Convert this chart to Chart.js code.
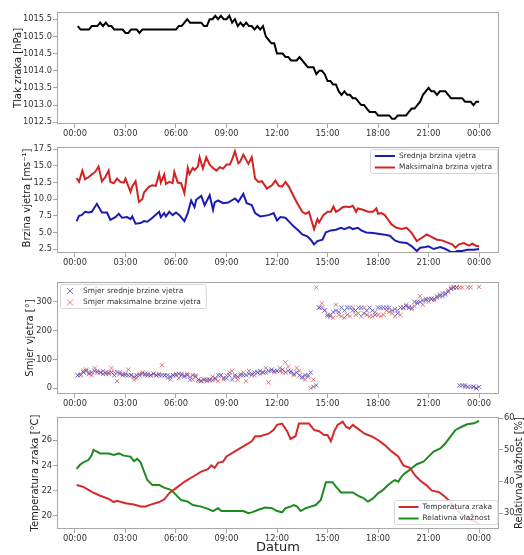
<!DOCTYPE html>
<html>
<head>
<meta charset="utf-8">
<script src="https://cdn.jsdelivr.net/npm/chart.js@4.4.0/dist/chart.umd.min.js"></script>
<style>
  body { margin: 0; background: #fff; width: 524px; height: 555px; overflow: hidden; position: relative; }
  canvas { position: absolute; left: 0; }
</style>
</head>
<body>
<canvas id="tlak" width="524" height="138" style="top:0px"></canvas>
<canvas id="brzina" width="524" height="134" style="top:140px"></canvas>
<canvas id="smjer" width="524" height="136" style="top:274px"></canvas>
<canvas id="temp" width="524" height="145" style="top:410px"></canvas>
<script>
// Meteoroloski podaci kroz jedan dan (mjerenja svakih 10 min), 4 panela

// --- Os vremena (minute od ponoci) ---
const satiMinuta = Array.from({ length: 144 }, (_, i) => (i + 1) * 10); // 00:10 ... 24:00
const xTickMinute = [0, 180, 360, 540, 720, 900, 1080, 1260, 1440];
const xTickOznake = ['00:00', '03:00', '06:00', '09:00', '12:00', '15:00', '18:00', '21:00', '00:00'];

// --- Tlak zraka [hPa], svakih 10 min ---
const tlak = [
  1015.3, 1015.2, 1015.2, 1015.2, 1015.2, 1015.3,
  1015.3, 1015.3, 1015.4, 1015.3, 1015.4, 1015.3,
  1015.3, 1015.2, 1015.2, 1015.2, 1015.2, 1015.1,
  1015.1, 1015.2, 1015.2, 1015.2, 1015.1, 1015.2,
  1015.2, 1015.2, 1015.2, 1015.2, 1015.2, 1015.2,
  1015.2, 1015.2, 1015.2, 1015.2, 1015.2, 1015.2,
  1015.3, 1015.3, 1015.4, 1015.5, 1015.4, 1015.4,
  1015.4, 1015.4, 1015.4, 1015.3, 1015.3, 1015.5,
  1015.5, 1015.6, 1015.5, 1015.6, 1015.5, 1015.5,
  1015.6, 1015.4, 1015.5, 1015.3, 1015.4, 1015.3,
  1015.4, 1015.3, 1015.3, 1015.2, 1015.3, 1015.2,
  1015.3, 1015.0, 1014.9, 1014.8, 1014.8, 1014.5,
  1014.5, 1014.5, 1014.4, 1014.4, 1014.3, 1014.3,
  1014.3, 1014.4, 1014.3, 1014.2, 1014.1, 1014.1,
  1014.1, 1013.9, 1014.0, 1014.0, 1013.9, 1013.7,
  1013.7, 1013.6, 1013.6, 1013.4, 1013.3, 1013.4,
  1013.3, 1013.3, 1013.2, 1013.2, 1013.1, 1013.0,
  1013.0, 1012.9, 1012.8, 1012.8, 1012.8, 1012.7,
  1012.7, 1012.7, 1012.7, 1012.7, 1012.6, 1012.6,
  1012.7, 1012.7, 1012.7, 1012.7, 1012.8, 1012.9,
  1012.9, 1013.0, 1013.1, 1013.3, 1013.4, 1013.5,
  1013.4, 1013.4, 1013.3, 1013.4, 1013.4, 1013.4,
  1013.3, 1013.2, 1013.2, 1013.2, 1013.2, 1013.2,
  1013.1, 1013.1, 1013.1, 1013.0, 1013.1, 1013.1
];
const tlakTicks = [1012.5, 1013.0, 1013.5, 1014.0, 1014.5, 1015.0, 1015.5];

// --- Brzina vjetra [m/s] (ocitano po satima) ---
const srednjaSati = [0.1, 0.24, 0.4, 0.6, 0.8, 1.0, 1.3, 1.6, 1.9, 2.1, 2.4, 2.6, 2.8, 3.1, 3.3, 3.4, 3.6, 3.9, 4.1, 4.3,
  4.6, 5.0, 5.1, 5.3, 5.4, 5.6, 5.8, 6.0, 6.2, 6.5, 6.7, 6.9, 7.1, 7.2, 7.5, 7.7, 8.0, 8.2, 8.3, 8.5,
  8.8, 9.1, 9.3, 9.5, 9.7, 10.0, 10.2, 10.5, 10.7, 11.0, 11.5, 11.8, 12.0, 12.2, 12.5, 12.8, 13.0, 13.3, 13.5, 13.8,
  14.0, 14.2, 14.4, 14.7, 14.9, 15.2, 15.5, 15.8, 16.0, 16.3, 16.5, 16.8, 17.0, 17.3, 17.7, 18.0, 18.3, 18.7, 19.0, 19.3,
  19.7, 20.0, 20.3, 20.5, 20.8, 21.0, 21.3, 21.7, 22.0, 22.3, 22.5, 22.7, 23.0, 23.3, 23.7, 24.0];
const srednjaBrzina = [6.7, 7.5, 7.6, 8.1, 8.0, 8.1, 9.3, 8.0, 8.0, 6.9, 7.3, 7.8, 7.2, 7.3, 7.0, 7.4, 6.3, 6.4, 6.7, 6.6,
  7.2, 8.1, 7.3, 7.9, 7.4, 8.1, 7.6, 8.0, 7.6, 6.7, 7.9, 9.8, 8.8, 9.9, 10.5, 9.1, 10.6, 8.4, 9.5, 9.8,
  9.4, 9.5, 9.8, 10.1, 9.6, 10.8, 9.4, 9.1, 7.9, 7.4, 7.6, 7.9, 6.8, 7.3, 7.2, 6.4, 5.9, 5.2, 4.7, 4.4,
  3.9, 3.2, 3.7, 3.9, 5.0, 5.3, 5.4, 5.7, 5.5, 5.8, 5.5, 5.7, 5.3, 5.0, 4.9, 4.8, 4.7, 4.5, 3.8, 3.5,
  3.4, 2.9, 2.2, 2.7, 2.8, 2.9, 2.5, 2.8, 2.5, 2.1, 2.0, 2.2, 2.2, 2.4, 2.4, 2.5];

const maksSati = [0.1, 0.24, 0.44, 0.6, 0.8, 1.0, 1.2, 1.4, 1.6, 1.8, 2.0, 2.1, 2.3, 2.5, 2.7, 2.9, 3.0, 3.3, 3.4, 3.6,
  3.8, 4.0, 4.1, 4.4, 4.6, 4.8, 5.0, 5.1, 5.3, 5.4, 5.6, 5.8, 5.9, 6.1, 6.3, 6.5, 6.7, 6.8, 7.0, 7.1,
  7.3, 7.4, 7.6, 7.8, 8.0, 8.2, 8.4, 8.6, 8.8, 9.0, 9.2, 9.35, 9.5, 9.7, 9.8, 10.0, 10.3, 10.5, 10.7, 10.9,
  11.1, 11.4, 11.7, 11.9, 12.1, 12.3, 12.5, 12.7, 12.9, 13.2, 13.5, 13.7, 13.9, 14.0, 14.2, 14.4, 14.5, 14.75, 15.0, 15.2,
  15.35, 15.5, 15.7, 15.9, 16.1, 16.3, 16.5, 16.7, 16.8, 17.1, 17.4, 17.7, 17.9, 18.0, 18.2, 18.4, 18.6, 18.8, 19.1, 19.4,
  19.7, 20.0, 20.3, 20.6, 20.9, 21.2, 21.5, 21.8, 22.1, 22.4, 22.6, 22.8, 23.1, 23.4, 23.6, 23.8, 24.0];
const maksBrzina = [13.2, 12.6, 14.3, 13.0, 13.3, 13.7, 14.1, 14.9, 12.7, 13.3, 14.3, 12.6, 12.4, 13.1, 12.6, 12.5, 13.1, 11.1, 11.9, 12.7,
  9.6, 10.0, 11.0, 11.9, 12.1, 12.0, 13.8, 12.5, 13.7, 12.3, 12.6, 12.4, 14.1, 12.5, 12.4, 10.9, 14.7, 13.8, 14.7, 14.4,
  14.9, 16.3, 14.6, 16.3, 15.2, 14.7, 14.3, 14.8, 14.6, 15.2, 15.2, 16.1, 17.2, 15.4, 15.6, 16.7, 15.3, 16.3, 13.1, 12.6,
  12.7, 11.6, 12.1, 12.8, 12.0, 11.9, 12.6, 11.9, 10.9, 9.4, 8.1, 7.8, 8.1, 7.2, 5.5, 7.0, 6.5, 7.6, 8.1, 8.1,
  8.9, 8.1, 8.4, 8.8, 8.9, 8.8, 9.0, 8.1, 8.6, 8.4, 8.1, 8.1, 8.6, 7.8, 7.9, 7.6, 6.9, 6.2, 5.7, 5.5,
  5.7, 4.9, 3.7, 4.2, 4.7, 4.3, 3.9, 3.8, 3.5, 3.2, 2.7, 3.2, 3.4, 3.0, 3.3, 3.0, 2.9];
const brzinaTicks = [2.5, 5.0, 7.5, 10.0, 12.5, 15.0, 17.5];

// --- Smjer vjetra [°], svakih 10 min ---
const smjerSrednje = [
  45, 45, 55, 60, 50, 55,   60, 55, 55, 50, 55, 50,   55, 45, 55, 50, 45, 50,   45, 45, 40, 45, 45, 50,
  50, 45, 45, 50, 45, 45,   45, 45, 45, 40, 45, 45,   50, 45, 40, 45, 30, 45,   40, 30, 25, 30, 30, 28,
  28, 35, 45, 45, 35, 35,   45, 30, 45, 40, 45, 45,   45, 50, 50, 55, 55, 60,   55, 55, 60, 65, 60, 60,
  60, 65, 55, 60, 55, 50,   55, 45, 40, 45, 45, 55,   5, 10, 280, 280, 270, 255,   250, 265, 270, 265, 280, 270,
  280, 280, 270, 270, 280, 280,   260, 270, 280, 270, 255, 280,   280, 280, 280, 280, 270, 275,   260, 280, 280, 285, 280, 280,
  300, 295, 300, 305, 310, 310,   310, 310, 315, 320, 320, 330,   335, 345, 350, 350, 10, 10,   10, 5, 5, 5, 0, 5
];
const smjerMaksimalne = [
  45, 50, 60, 65, 55, 45,   70, 60, 55, 60, 50, 55,   70, 55, 25, 55, 50, 45,   65, 45, 30, 35, 50, 55,
  45, 50, 45, 50, 45, 50,   80, 45, 35, 30, 45, 50,   35, 50, 45, 50, 40, 30,   45, 25, 25, 30, 25, 30,
  40, 30, 25, 45, 30, 45,   55, 60, 40, 30, 50, 55,   25, 60, 45, 45, 55, 50,   55, 70, 20, 60, 55, 60,
  70, 55, 90, 75, 60, 45,   70, 60, 35, 30, 40, 0,   30, 350, 280, 295, 270, 250,   255, 245, 290, 255, 250, 245,
  255, 250, 280, 255, 260, 250,   280, 255, 250, 250, 265, 255,   250, 255, 270, 265, 260, 250,   270, 255, 280, 290, 280, 275,
  285, 300, 320, 290, 305, 300,   310, 305, 320, 325, 330, 325,   340, 350, 350, 350, 350, 350,   5, 350, 350, 5, 0, 352
];
const smjerTicks = [0, 100, 200, 300];

// --- Temperatura [°C] i relativna vlaznost [%] ---
const tempSati = [0.1, 0.5, 1.0, 1.5, 2.0, 2.3, 2.5, 3.0, 3.5, 3.9, 4.2, 4.5, 5.0, 5.3, 5.6, 6.0, 6.5, 7.0, 7.5, 7.9,
  8.1, 8.3, 8.5, 8.8, 9.0, 9.5, 10.0, 10.5, 10.7, 11.0, 11.5, 11.8, 12.0, 12.3, 12.6, 12.8, 13.1, 13.3, 13.7, 13.9,
  14.2, 14.5, 14.8, 15.0, 15.2, 15.4, 15.6, 15.9, 16.1, 16.3, 16.5, 16.8, 17.2, 17.6, 18.0, 18.4, 18.8, 19.2, 19.5, 19.9,
  20.2, 20.5, 20.9, 21.2, 21.6, 22.0, 22.3, 22.6, 23.0, 23.5, 24.0];
const temperatura = [22.45, 22.3, 21.9, 21.6, 21.35, 21.1, 21.2, 21.0, 20.9, 20.75, 20.75, 20.9, 21.1, 21.3, 21.8, 22.2, 22.7, 23.1, 23.5, 23.7,
  24.0, 23.8, 24.2, 24.3, 24.7, 25.1, 25.5, 25.9, 26.3, 26.3, 26.5, 26.8, 27.2, 27.3, 26.7, 26.1, 26.3, 27.3, 27.3, 27.3,
  26.8, 26.7, 26.4, 26.4, 25.9, 26.7, 27.2, 27.45, 27.05, 26.9, 27.2, 26.9, 26.5, 26.3, 26.0, 25.6, 25.1, 24.7, 24.0, 23.8,
  23.2, 22.8, 22.4, 22.0, 21.9, 21.5, 21.1, 20.6, 20.1, 19.7, 19.4];

const vlagaSati = [0.1, 0.3, 0.5, 0.8, 1.0, 1.1, 1.3, 1.5, 2.0, 2.3, 2.6, 2.9, 3.3, 3.5, 3.7, 3.9, 4.1, 4.3, 4.6, 5.0,
  5.3, 5.7, 6.0, 6.3, 6.7, 7.0, 7.5, 7.9, 8.2, 8.5, 8.7, 9.0, 9.5, 10.0, 10.3, 10.5, 10.9, 11.3, 11.7, 12.0,
  12.3, 12.5, 12.8, 13.0, 13.2, 13.4, 13.7, 14.0, 14.3, 14.6, 14.8, 14.9, 15.3, 15.5, 15.8, 16.5, 16.8, 17.1, 17.4, 17.7,
  18.0, 18.3, 18.6, 18.8, 19.0, 19.2, 19.4, 19.6, 19.8, 20.0, 20.3, 20.7, 21.0, 21.3, 21.7, 22.0, 22.3, 22.6, 23.0, 23.3,
  23.7, 24.0];
const vlaga = [44.0, 45.3, 46.1, 46.8, 48.4, 50.0, 49.5, 48.9, 48.9, 48.4, 48.9, 48.2, 47.9, 46.5, 47.2, 46.1, 43.2, 40.5, 38.9, 38.9,
  38.1, 37.4, 35.8, 34.2, 33.7, 32.6, 32.1, 31.4, 30.7, 31.6, 30.7, 30.7, 30.7, 30.7, 30.0, 30.3, 31.1, 31.8, 31.6, 30.7,
  30.3, 31.6, 32.1, 32.6, 32.1, 30.7, 31.6, 32.1, 32.6, 34.2, 37.9, 39.8, 39.8, 38.4, 36.6, 36.6, 35.6, 34.9, 33.7, 34.7,
  36.3, 37.4, 38.9, 39.8, 40.5, 40.0, 41.6, 42.6, 43.4, 44.2, 45.5, 46.3, 47.9, 49.5, 50.5, 52.1, 54.2, 56.3, 57.4, 58.1,
  58.4, 59.2];
const tempTicks = [20, 22, 24, 26];
const vlagaTicks = [30, 40, 50, 60];

// --- Zajednicki stil ---
const FAM = "'DejaVu Sans', sans-serif";
const font = { family: FAM, size: 8.3 };
const sivo = '#a8a8a8';
Chart.defaults.animation = false;

function xOs(visina) {
  return {
    type: 'linear', min: -64, max: 1511,
    afterBuildTicks: s => { s.ticks = xTickMinute.map(v => ({ value: v })); },
    afterFit: s => { s.height = visina; },
    ticks: { callback: (v, i) => xTickOznake[i], font, color: '#333', padding: 1, maxRotation: 0, autoSkip: false },
    grid: { drawOnChartArea: false, tickLength: 4, color: sivo },
    border: { display: false }
  };
}

function yOs(pozicija, min, max, vrijednosti, decimale, sirina) {
  return {
    type: 'linear', position: pozicija, min, max,
    afterBuildTicks: s => { s.ticks = vrijednosti.map(v => ({ value: v })); },
    afterFit: s => { s.width = sirina; },
    ticks: { callback: v => v.toFixed(decimale), font, color: '#333', padding: 1 },
    grid: { drawOnChartArea: false, tickLength: 4, color: sivo },
    border: { display: false }
  };
}

const tocke = (sati, vrijednosti) => sati.map((h, i) => ({ x: h * 60, y: vrijednosti[i] }));
const tockeMin = (vrijednosti) => satiMinuta.map((m, i) => ({ x: m, y: vrijednosti[i] }));

// okvir oko podrucja grafa
const okvir = {
  id: 'okvir',
  afterDraw(chart) {
    const { ctx, chartArea: a } = chart;
    ctx.save();
    ctx.strokeStyle = sivo;
    ctx.lineWidth = 1;
    ctx.strokeRect(Math.round(a.left) + 0.5, Math.round(a.top) + 0.5, Math.round(a.width) - 1, Math.round(a.height) - 1);
    ctx.restore();
  }
};

// natpisi osi (matplotlib stil)
function natpisi(items) {
  return {
    id: 'natpisi',
    afterDraw(chart) {
      const ctx = chart.ctx;
      items.forEach(t => {
        ctx.save();
        ctx.translate(t.x, t.y);
        if (t.rot) ctx.rotate(t.rot);
        ctx.font = t.size + 'px ' + FAM;
        ctx.fillStyle = '#222';
        ctx.textAlign = 'center';
        ctx.textBaseline = 'middle';
        ctx.fillText(t.text, 0, 0);
        ctx.restore();
      });
    }
  };
}

// legenda u okviru, unutar podrucja grafa
function legenda(pozicija, kriz) {
  return {
    id: 'legenda',
    afterDraw(chart) {
      const { ctx, chartArea: a } = chart;
      const sets = chart.data.datasets;
      ctx.save();
      ctx.font = '7.4px ' + FAM;
      const tw = Math.max(...sets.map(d => ctx.measureText(d.label).width));
      const lijevo = kriz ? 23 : 29;
      const w = lijevo + tw + 5, h = 24;
      const x = pozicija === 'tl' ? a.left + 3 : a.right - w - 2;
      const y = pozicija === 'br' ? a.bottom - h - 5 : a.top + 2;
      ctx.beginPath();
      ctx.roundRect(Math.round(x) + 0.5, Math.round(y) + 0.5, w, h, 2);
      ctx.fillStyle = 'rgba(255,255,255,0.85)';
      ctx.fill();
      ctx.strokeStyle = '#d6d6d6';
      ctx.lineWidth = 1;
      ctx.stroke();
      sets.forEach((d, i) => {
        const cy = y + 7 + i * 11.5;
        if (kriz) {
          ctx.strokeStyle = d.borderColor;
          ctx.lineWidth = 1;
          ctx.beginPath();
          ctx.moveTo(x + 7, cy - 3); ctx.lineTo(x + 13, cy + 3);
          ctx.moveTo(x + 13, cy - 3); ctx.lineTo(x + 7, cy + 3);
          ctx.stroke();
        } else {
          ctx.strokeStyle = d.borderColor;
          ctx.lineWidth = 2;
          ctx.beginPath();
          ctx.moveTo(x + 5, cy); ctx.lineTo(x + 25, cy);
          ctx.stroke();
        }
        ctx.fillStyle = '#333';
        ctx.textBaseline = 'middle';
        ctx.fillText(d.label, x + lijevo, cy);
      });
      ctx.restore();
    }
  };
}

const ROT = -Math.PI / 2;
const zajednicko = (padTop, padRight) => ({
  responsive: false,
  animation: false,
  layout: { padding: { top: padTop, right: padRight, left: 0, bottom: 0 } },
  plugins: { legend: { display: false }, tooltip: { enabled: false } }
});

// --- Panel 1: tlak zraka ---
new Chart(document.getElementById('tlak'), {
  type: 'scatter',
  data: { datasets: [{
    label: 'Tlak zraka', data: tockeMin(tlak), showLine: true,
    borderColor: '#000', borderWidth: 2, pointRadius: 0
  }] },
  options: {
    ...zajednicko(12, 25),
    scales: { x: xOs(14), y: yOs('left', 1012.45, 1015.71, tlakTicks, 1, 57) }
  },
  plugins: [okvir, natpisi([{ text: 'Tlak zraka [hPa]', x: 18, y: 68, size: 10, rot: ROT }])]
});

// --- Panel 2: brzina vjetra ---
new Chart(document.getElementById('brzina'), {
  type: 'scatter',
  data: { datasets: [
    { label: 'Srednja brzina vjetra', data: tocke(srednjaSati, srednjaBrzina), showLine: true,
      borderColor: '#1c1cb4', borderWidth: 2, pointRadius: 0 },
    { label: 'Maksimalna brzina vjetra', data: tocke(maksSati, maksBrzina), showLine: true,
      borderColor: '#d42222', borderWidth: 2, pointRadius: 0 }
  ] },
  options: {
    ...zajednicko(7, 25),
    scales: { x: xOs(21), y: yOs('left', 1.9, 17.85, brzinaTicks, 1, 57) }
  },
  plugins: [okvir, natpisi([{ text: 'Brzina vjetra [ms\u207B\u00B9]', x: 27, y: 58, size: 10, rot: ROT }]), legenda('tr', false)]
});

// --- Panel 3: smjer vjetra ---
new Chart(document.getElementById('smjer'), {
  type: 'scatter',
  data: { datasets: [
    { label: 'Smjer srednje brzine vjetra', data: tockeMin(smjerSrednje),
      pointStyle: 'crossRot', pointRadius: 3, borderWidth: 1,
      borderColor: 'rgba(70,70,200,0.75)', backgroundColor: 'rgba(70,70,200,0.75)' },
    { label: 'Smjer maksimalne brzine vjetra', data: tockeMin(smjerMaksimalne),
      pointStyle: 'crossRot', pointRadius: 3, borderWidth: 1,
      borderColor: 'rgba(215,60,60,0.65)', backgroundColor: 'rgba(215,60,60,0.65)' }
  ] },
  options: {
    ...zajednicko(8, 25),
    scales: { x: xOs(16), y: yOs('left', -20, 369, smjerTicks, 0, 57) }
  },
  plugins: [okvir, natpisi([{ text: 'Smjer vjetra [\u00B0]', x: 30, y: 64, size: 10, rot: ROT }]), legenda('tl', true)]
});

// --- Panel 4: temperatura i relativna vlaznost ---
new Chart(document.getElementById('temp'), {
  type: 'scatter',
  data: { datasets: [
    { label: 'Temperatura zraka', data: tocke(tempSati, temperatura), showLine: true, yAxisID: 'y',
      borderColor: '#d42a2a', borderWidth: 2, pointRadius: 0 },
    { label: 'Relativna vla\u017Enost', data: tocke(vlagaSati, vlaga), showLine: true, yAxisID: 'y2',
      borderColor: '#1f8a1f', borderWidth: 2, pointRadius: 0 }
  ] },
  options: {
    ...zajednicko(7, 0),
    scales: {
      x: xOs(26),
      y: yOs('left', 18.97, 27.82, tempTicks, 0, 57),
      y2: yOs('right', 25.04, 60.4, vlagaTicks, 0, 25)
    }
  },
  plugins: [okvir, natpisi([
    { text: 'Temperatura zraka [\u00B0C]', x: 35, y: 63, size: 10, rot: ROT },
    { text: 'Relativna vla\u017Enost [%]', x: 519, y: 63, size: 10, rot: ROT },
    { text: 'Datum', x: 278, y: 138, size: 13 }
  ]), legenda('br', false)]
});
</script>
</body>
</html>
